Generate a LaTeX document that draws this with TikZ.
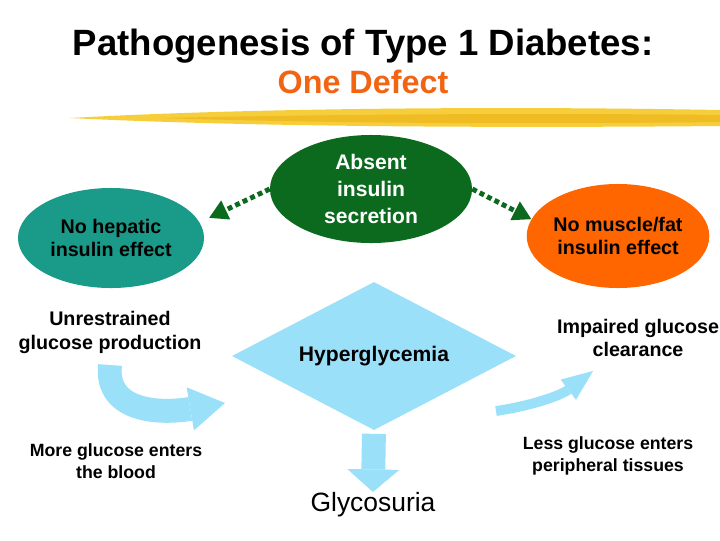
\documentclass[tikz,border=0pt]{standalone}
\usepackage{fontspec}
\setmainfont{Liberation Sans}
\usetikzlibrary{positioning,arrows.meta,shapes.geometric}
\definecolor{tealblob}{RGB}{26,154,136}
\definecolor{greenblob}{RGB}{12,106,30}
\definecolor{orangeblob}{RGB}{255,102,0}
\definecolor{skyblue}{RGB}{153,224,248}
\definecolor{brushgold}{RGB}{246,206,60}
\definecolor{brushdeep}{RGB}{236,176,20}
\definecolor{titleorange}{RGB}{242,100,18}

\begin{document}
\begin{tikzpicture}[
  x=0.025cm, y=-0.025cm,
  blob/.style={ellipse, inner sep=0pt, align=center,
              font=\fontsize{14}{17}\selectfont\bfseries},
  lbl/.style={align=center, font=\fontsize{14}{17}\selectfont\bfseries},
  smalllbl/.style={align=center, font=\fontsize{12.6}{15.6}\selectfont\bfseries},
  dotarw/.style={greenblob, line width=3.5pt, dash pattern=on 3.5pt off 2.4pt,
              -{Triangle[length=13pt, width=15pt, line width=0pt]}},
  fatarw/.style={skyblue, line width=17pt,
              -{Triangle[length=25pt, width=31pt, line width=0pt]}},
  downarw/.style={skyblue, line width=17pt,
              -{Triangle[length=16pt, width=37pt, line width=0pt]}},
  thinarw/.style={skyblue, line width=7pt,
              -{Triangle[length=22pt, width=18pt, line width=0pt]}}
]
\path[use as bounding box, fill=white] (0,0) rectangle (720,540);

% title and brush stroke
\node[font=\fontsize{26}{30}\selectfont\bfseries] (title) at (363,46)
  {Pathogenesis of Type 1 Diabetes:};
\node[font=\fontsize{23}{27}\selectfont\bfseries, text=titleorange] (defect) at (363,82)
  {One Defect};
\fill[brushgold] (70,118) .. controls (250,108) and (500,106) .. (720,110)
  -- (720,126) .. controls (500,128) and (250,127) .. (70,118) -- cycle;
\fill[brushdeep, opacity=0.6] (160,118) .. controls (350,114) and (550,113) .. (720,115)
  -- (720,122) .. controls (550,124) and (350,124) .. (160,118) -- cycle;

\node[blob, fill=tealblob, minimum width=4.65cm, minimum height=2.5cm] (hepatic) at (111,238)
  {No hepatic\\insulin effect};
\node[blob, fill=greenblob, text=white, minimum width=5.05cm, minimum height=2.7cm,
  font=\fontsize{15}{19}\selectfont\bfseries] (secretion) at (371,189)
  {Absent\\insulin\\secretion};
\node[blob, fill=orangeblob, minimum width=4.5cm, minimum height=2.6cm] (muscle) at (618,236)
  {No muscle/fat\\insulin effect};
\node[diamond, aspect=1.92, fill=skyblue, minimum width=7.1cm, minimum height=3.7cm,
  inner sep=0pt, font=\fontsize{15}{18}\selectfont\bfseries] (hyper) at (374,356)
  {Hyperglycemia};

\node[lbl] (production) at (110,332) {Unrestrained\\glucose production};
\node[lbl] (clearance) at (638,338) {Impaired glucose\\clearance};
\node[smalllbl] (blood) at (116,461) {More glucose enters\\the blood};
\node[smalllbl] (tissues) at (608,456) {Less glucose enters\\peripheral tissues};
\node[font=\fontsize{18.8}{22}\selectfont] (urine) at (373,505) {Glycosuria};

\coordinate (swirlA) at (110,365);
\coordinate (swirlB) at (225,403);
\coordinate (hookA) at (496,411);
\coordinate (hookB) at (593,371);

\draw[dotarw, shorten >=7.5pt] (secretion.west) -- (hepatic.10);
\draw[dotarw] (secretion.east) -- (muscle.169);
\draw[fatarw] (swirlA) .. controls (105,412) and (160,414) .. (swirlB);
\draw[thinarw] (hookA) .. controls (530,406) and (560,396) .. (hookB);
\draw[downarw, shorten <=2.5pt, shorten >=-3pt] (hyper.south) -- (urine.north);
\end{tikzpicture}
\end{document}
